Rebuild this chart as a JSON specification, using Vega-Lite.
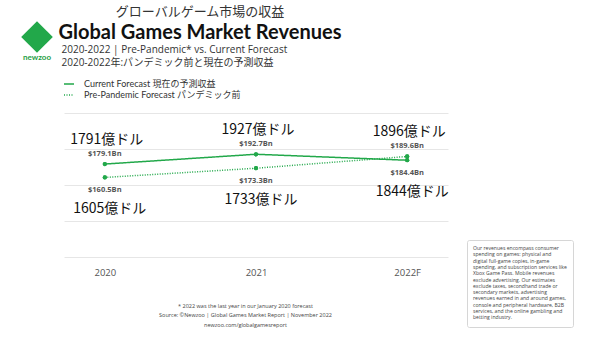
{
  "$schema": "https://vega.github.io/schema/vega-lite/v6.json",
  "width": 384,
  "height": 144,
  "autosize": {"type": "none"},
  "padding": {"left": 64, "top": 113, "right": 152, "bottom": 81},
  "background": "white",
  "config": {"view": {"stroke": null}},
  "title": {
    "text": "グローバルゲーム市場の収益",
    "subtitle": "Global Games Market Revenues",
    "anchor": "start",
    "frame": "group",
    "align": "center",
    "dx": 136,
    "offset": -22,
    "font": "Noto Sans CJK JP",
    "fontSize": 13,
    "fontWeight": "normal",
    "color": "#333333",
    "subtitleFont": "Lato",
    "subtitleFontSize": 20,
    "subtitleFontWeight": "bold",
    "subtitleColor": "#111111",
    "subtitlePadding": 4
  },
  "data": {
    "values": [
      {"year": "2020", "series": "Current Forecast 現在の予測収益", "value": 179.1, "label": "$179.1Bn", "jp": "1791億ドル"},
      {"year": "2021", "series": "Current Forecast 現在の予測収益", "value": 192.7, "label": "$192.7Bn", "jp": "1927億ドル"},
      {"year": "2022F", "series": "Current Forecast 現在の予測収益", "value": 184.4, "label": "$184.4Bn", "jp": "1844億ドル"},
      {"year": "2020", "series": "Pre-Pandemic Forecast パンデミック前", "value": 160.5, "label": "$160.5Bn", "jp": "1605億ドル"},
      {"year": "2021", "series": "Pre-Pandemic Forecast パンデミック前", "value": 173.3, "label": "$173.3Bn", "jp": "1733億ドル"},
      {"year": "2022F", "series": "Pre-Pandemic Forecast パンデミック前", "value": 189.6, "label": "$189.6Bn", "jp": "1896億ドル"}
    ]
  },
  "transform": [
    {"joinaggregate": [{"op": "max", "field": "value", "as": "top"}], "groupby": ["year"]}
  ],
  "encoding": {
    "x": {
      "field": "year",
      "type": "ordinal",
      "scale": {"type": "point", "padding": 0.27},
      "axis": {
        "title": ["* 2022 was the last year in our January 2020 forecast", "Source: ©Newzoo | Global Games Market Report | November 2022", "newzoo.com/globalgamesreport"],
        "titleX": 181,
        "titleY": 46,
        "titleAlign": "center",
        "titleBaseline": "top",
        "titleFont": "Open Sans",
        "titleFontSize": 5.5,
        "titleFontWeight": "normal",
        "titleColor": "#444444",
        "titleLineHeight": 9.5,
        "labelAngle": 0,
        "labelFont": "Open Sans",
        "labelFontSize": 9.5,
        "labelColor": "#555555",
        "labelPadding": 10,
        "ticks": false,
        "domain": false,
        "grid": false
      }
    },
    "y": {
      "field": "value",
      "type": "quantitative",
      "scale": {"domain": [50, 250], "nice": false, "zero": false},
      "axis": {
        "title": ["2020-2022 | Pre-Pandemic* vs. Current Forecast", "2020-2022年:パンデミック前と現在の予測収益"],
        "titleAngle": 0,
        "titleAlign": "left",
        "titleBaseline": "top",
        "titleX": -3,
        "titleY": -69,
        "titleFont": "Open Sans, Noto Sans CJK JP",
        "titleFontSize": 10,
        "titleFontWeight": "normal",
        "titleColor": "#333333",
        "titleLineHeight": 13,
        "titleLimit": 400,
        "labels": false,
        "ticks": false,
        "domain": false,
        "grid": true,
        "gridColor": "#e6e6e6",
        "values": [50, 100, 150, 200, 250]
      }
    }
  },
  "layer": [
    {
      "mark": {"type": "line", "strokeWidth": 1.5},
      "encoding": {
        "color": {
          "field": "series",
          "type": "nominal",
          "scale": {"domain": ["Current Forecast 現在の予測収益", "Pre-Pandemic Forecast パンデミック前"], "range": ["#22a84a", "#22a84a"]},
          "legend": {"orient": "none", "legendX": -1, "legendY": -35, "title": null, "symbolType": "stroke", "symbolSize": 100, "symbolStrokeWidth": 1.5, "labelFont": "Lato, Noto Sans CJK JP", "labelFontSize": 9, "labelColor": "#333333", "labelOffset": 9, "rowPadding": 0}
        },
        "strokeDash": {
          "field": "series",
          "type": "nominal",
          "scale": {"domain": ["Current Forecast 現在の予測収益", "Pre-Pandemic Forecast パンデミック前"], "range": [[1, 0], [1, 1.5]]},
          "legend": {"orient": "none", "legendX": -1, "legendY": -35, "title": null, "symbolType": "stroke", "symbolSize": 100, "symbolStrokeWidth": 1.5, "labelFont": "Lato, Noto Sans CJK JP", "labelFontSize": 9, "labelColor": "#333333", "labelOffset": 9, "rowPadding": 0}
        }
      }
    },
    {
      "mark": {"type": "point", "filled": true, "size": 18, "opacity": 1},
      "encoding": {
        "color": {"field": "series", "type": "nominal"},
        "shape": {
          "datum": "note",
          "scale": {"range": ["circle"]},
          "legend": {
            "orient": "none",
            "legendX": 403,
            "legendY": 127,
            "title": ["Our revenues encompass consumer", "spending on games: physical and", "digital full-game copies, in-game", "spending, and subscription services like", "Xbox Game Pass. Mobile revenues", "exclude advertising. Our estimates", "exclude taxes, secondhand trade or", "secondary markets, advertising", "revenues earned in and around games,", "console and peripheral hardware, B2B", "services, and the online gambling and", "betting industry."],
            "titleFont": "Open Sans",
            "titleFontSize": 5.1,
            "titleFontWeight": "normal",
            "titleColor": "#444444",
            "titleLineHeight": 6.3,
            "titleLimit": 200,
            "values": [],
            "padding": 6,
            "strokeColor": "#d6d6d6",
            "cornerRadius": 2
          }
        }
      }
    },
    {
      "mark": {"type": "point", "filled": true, "size": 18, "color": "#22a84a"},
      "encoding": {
        "opacity": {
          "datum": "newzoo",
          "scale": {"range": [1, 1]},
          "legend": {
            "orient": "none", "legendX": -43, "legendY": -92,
            "title": "newzoo", "titleOrient": "bottom", "titleAnchor": "middle", "titleFont": "Lato", "titleFontSize": 8, "titleFontWeight": "bold", "titleColor": "#1e9e44", "titlePadding": 1,
            "symbolType": "diamond", "symbolSize": 1000, "symbolStrokeWidth": 0, "symbolFillColor": "#22a84a",
            "labelExpr": "''", "labelOffset": 0, "labelFontSize": 1, "padding": 0
          }
        }
      }
    },
    {
      "transform": [{"filter": "datum.value == datum.top"}],
      "mark": {"type": "text", "dy": -10, "font": "Open Sans", "fontSize": 7.5, "fontWeight": "bold", "color": "#555555"},
      "encoding": {"text": {"field": "label"}}
    },
    {
      "transform": [{"filter": "datum.value < datum.top"}],
      "mark": {"type": "text", "dy": 12.5, "font": "Open Sans", "fontSize": 7.5, "fontWeight": "bold", "color": "#555555"},
      "encoding": {"text": {"field": "label"}}
    },
    {
      "transform": [{"filter": "datum.value == datum.top"}],
      "mark": {"type": "text", "dy": -24, "dx": 2, "font": "Noto Sans CJK JP", "fontSize": 14, "color": "#111111"},
      "encoding": {"text": {"field": "jp"}}
    },
    {
      "transform": [{"filter": "datum.value < datum.top"}],
      "mark": {"type": "text", "dy": 32, "dx": 5, "font": "Noto Sans CJK JP", "fontSize": 14, "color": "#111111"},
      "encoding": {"text": {"field": "jp"}}
    }
  ]
}
